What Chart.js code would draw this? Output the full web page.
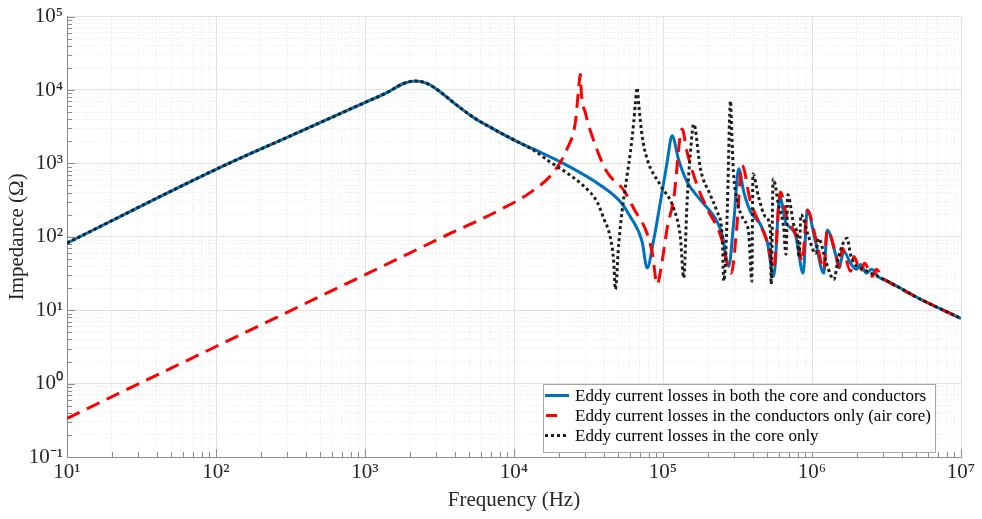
<!DOCTYPE html>
<html>
<head>
<meta charset="utf-8">
<script src="https://cdn.jsdelivr.net/npm/chart.js@4.4.1/dist/chart.umd.min.js"></script>
<style>
html, body { margin: 0; padding: 0; background: #ffffff; }
#wrap { width: 982px; height: 519px; position: relative; }
</style>
</head>
<body>
<div id="wrap"><canvas id="c" width="982" height="519"></canvas></div>
<script>
// ---- Series: eddy current losses in both the core and conductors ----
const freqBoth = [10, 100, 319, 1020, 1403, 1815, 2175, 2606, 3041, 3930, 5350, 7300, 10200, 13550, 22700, 38000, 51760, 60400, 72400, 78200, 86700, 96100, 106600, 115100, 127400, 145100, 178300, 230700, 249400, 276100, 298500, 322200, 348300, 386300, 451000, 500000, 553600, 608000, 664000, 774000, 873000, 929000, 1055000, 1200000, 1265000, 1438000, 1514000, 1636000, 1815000, 1990000, 2120000, 2320000, 2510000, 2800000, 3200000, 5360000, 10000000];
const zBoth = [82, 830, 2390, 6880, 9200, 12270, 13240, 12270, 10190, 6730, 4225, 2935, 2045, 1560, 940, 505, 300, 188, 86, 37.6, 92, 300, 1040, 2390, 1110, 559, 319, 161, 107, 39.7, 161, 845, 409, 220, 147, 86, 29, 351, 161, 107, 32, 232, 86, 32, 124, 57.7, 37.7, 63, 43.5, 36, 42, 32, 36, 28.2, 24.9, 14.1, 7.7];

// ---- Series: eddy current losses in the conductors only (air core) ----
const freqAir = [10, 100, 1020, 3730, 8090, 13550, 18450, 22700, 25800, 27000, 27900, 28300, 30100, 35200, 42100, 54500, 63600, 78200, 84900, 91300, 98600, 106600, 118000, 134300, 145100, 169400, 197700, 242700, 287800, 311000, 339600, 386300, 428500, 500000, 553600, 614000, 681000, 796000, 859000, 929000, 1084000, 1200000, 1265000, 1460000, 1530000, 1596000, 1815000, 1910000, 2120000, 2250000, 2540000, 2710000, 2970000, 3200000, 5360000, 10000000];
const zAir = [0.336, 3.2, 31, 111, 234, 432, 763, 1575, 3610, 9100, 16250, 9100, 4930, 1750, 763, 432, 243, 111, 59, 22.5, 46, 131, 332, 2935, 1420, 505, 243, 106, 32, 118, 940, 300, 178, 86, 37.7, 409, 178, 95.7, 46, 232, 78, 36, 124, 54, 38.5, 70, 34, 54, 34, 43.5, 29, 36, 27.4, 24.9, 14.1, 7.7];

// ---- Series: eddy current losses in the core only ----
const freqCore = [10, 100, 319, 1020, 1403, 1815, 2175, 2606, 3041, 3930, 5350, 7300, 10200, 13550, 17540, 22700, 29300, 36100, 40000, 44400, 46700, 47900, 50400, 53100, 57400, 60400, 63600, 65300, 67000, 68900, 72400, 78200, 96100, 118000, 131000, 137700, 145100, 152800, 160800, 178300, 208000, 230700, 249400, 256000, 269000, 276100, 279000, 283800, 290000, 297000, 316000, 347000, 375000, 395000, 401600, 437500, 487500, 526000, 532000, 549000, 596000, 644000, 669000, 688000, 751000, 799000, 818000, 844000, 948000, 1055000, 1106000, 1250000, 1400000, 1510000, 1720000, 1815000, 1910000, 2230000, 2600000, 3200000, 5360000, 10000000];
const zCore = [82, 830, 2390, 6880, 9200, 12270, 13240, 12270, 10190, 6730, 4225, 2935, 2045, 1510, 1040, 740, 493, 300, 178, 96, 46, 19.2, 78, 220, 689, 1420, 3610, 6700, 10740, 6000, 2390, 1150, 505, 243, 96, 27.6, 300, 1420, 3430, 845, 370, 220, 106, 24.9, 178, 1420, 3600, 7100, 2300, 763, 300, 171, 118, 24.9, 716, 351, 188, 118, 22.7, 614, 273, 138, 57.7, 373, 151, 101, 52.5, 200, 101, 59, 95, 43.5, 26.2, 54, 95.7, 57, 44, 35.8, 30.6, 24.9, 14.1, 7.7];

const seriesLabels = [
  'Eddy current losses in both the core and conductors',
  'Eddy current losses in the conductors only (air core)',
  'Eddy current losses in the core only'
];

// ---- Axis ticks ----
const xDecades = [1, 2, 3, 4, 5, 6, 7];
const xTickLabels = ['10¹', '10²', '10³', '10⁴', '10⁵', '10⁶', '10⁷'];
const yDecades = [-1, 0, 1, 2, 3, 4, 5];
const yTickLabels = ['10⁻¹', '10⁰', '10¹', '10²', '10³', '10⁴', '10⁵'];
const xTitle = 'Frequency (Hz)';
const yTitle = 'Impedance (Ω)';

const SERIF = '"Liberation Serif", "Times New Roman", serif';

function isDecade(v) {
  const e = Math.log10(v);
  return Math.abs(e - Math.round(e)) < 1e-6;
}
function logTicks(decades) {
  const out = [];
  for (let k = 0; k < decades.length - 1; k++) {
    for (let m = 1; m <= 9; m++) out.push({ value: m * Math.pow(10, decades[k]) });
  }
  out.push({ value: Math.pow(10, decades[decades.length - 1]) });
  out.forEach(t => { t.major = isDecade(t.value); });
  return out;
}
function toPoints(fs, zs) {
  return fs.map((f, i) => ({ x: f, y: zs[i] }));
}

const gridColor = (c) => (c.tick && isDecade(c.tick.value)) ? '#e2e2e2' : '#ececec';
const gridDash = (c) => (c.tick && !isDecade(c.tick.value)) ? [1.5, 2] : [];

const insideTicks = {
  id: 'insideTicks',
  beforeDatasetsDraw(chart) {
    const { ctx, chartArea, scales } = chart;
    ctx.save();
    ctx.strokeStyle = '#8c8c8c';
    ctx.lineWidth = 1;
    ctx.beginPath();
    scales.x.ticks.forEach(t => {
      const px = Math.round(scales.x.getPixelForValue(t.value)) + 0.5;
      const len = isDecade(t.value) ? 8 : 5;
      ctx.moveTo(px, chartArea.bottom);
      ctx.lineTo(px, chartArea.bottom - len);
    });
    scales.y.ticks.forEach(t => {
      const py = Math.round(scales.y.getPixelForValue(t.value)) + 0.5;
      const len = isDecade(t.value) ? 8 : 5;
      ctx.moveTo(chartArea.left, py);
      ctx.lineTo(chartArea.left + len, py);
    });
    ctx.stroke();
    ctx.restore();
  }
};

const boxLegend = {
  id: 'boxLegend',
  afterDraw(chart) {
    const { ctx, chartArea } = chart;
    const ds = chart.data.datasets;
    const w = 392, h = 68;
    const x0 = chartArea.right - 26 - w;
    const y0 = chartArea.bottom - 5 - h;
    ctx.save();
    ctx.fillStyle = '#ffffff';
    ctx.fillRect(x0, y0, w, h);
    ctx.strokeStyle = '#a6a6a6';
    ctx.lineWidth = 1;
    ctx.setLineDash([]);
    ctx.strokeRect(Math.round(x0) + 0.5, Math.round(y0) + 0.5, w, h);
    ctx.font = '17px ' + SERIF;
    ctx.textBaseline = 'middle';
    ds.forEach((d, i) => {
      const cy = y0 + 11.5 + i * 20;
      ctx.strokeStyle = d.borderColor;
      ctx.lineWidth = d.borderWidth;
      ctx.lineCap = 'butt';
      ctx.beginPath();
      if (i === 1) {
        ctx.setLineDash([]);
        ctx.moveTo(x0 + 3, cy); ctx.lineTo(x0 + 14, cy);
      } else {
        ctx.setLineDash(d.borderDash || []);
        ctx.moveTo(x0 + 2, cy); ctx.lineTo(x0 + 26, cy);
      }
      ctx.stroke();
      ctx.setLineDash([]);
      ctx.fillStyle = '#000000';
      ctx.fillText(d.label, x0 + 32, cy + 1);
    });
    ctx.restore();
  }
};

new Chart(document.getElementById('c'), {
  type: 'line',
  data: {
    datasets: [
      { label: seriesLabels[0], data: toPoints(freqBoth, zBoth), borderColor: '#0072BD', borderWidth: 3, pointRadius: 0, cubicInterpolationMode: 'monotone', fill: false, order: 3 },
      { label: seriesLabels[1], data: toPoints(freqAir, zAir), borderColor: '#FF0000', borderWidth: 3, borderDash: [14, 8], borderCapStyle: 'butt', pointRadius: 0, cubicInterpolationMode: 'monotone', fill: false, order: 2 },
      { label: seriesLabels[2], data: toPoints(freqCore, zCore), borderColor: '#1e1e1e', borderWidth: 3, borderDash: [3, 3], borderCapStyle: 'butt', pointRadius: 0, cubicInterpolationMode: 'monotone', fill: false, order: 1 }
    ]
  },
  options: {
    responsive: false,
    animation: false,
    devicePixelRatio: 1,
    layout: { padding: { top: 13, right: 21, left: 0, bottom: 0 } },
    plugins: { legend: { display: false }, tooltip: { enabled: false } },
    scales: {
      x: {
        type: 'logarithmic',
        min: 10, max: 1e7,
        afterBuildTicks: (s) => { s.ticks = logTicks(xDecades); },
        afterFit: (s) => { s.height = 62; },
        grid: { color: gridColor, lineWidth: 1, drawTicks: false },
        border: { display: true, color: '#8c8c8c', width: 1, dash: gridDash },
        ticks: {
          autoSkip: false, maxRotation: 0, minRotation: 0, padding: 3,
          color: '#262626',
          font: { family: SERIF, size: 21 },
          callback: (v) => isDecade(v) ? xTickLabels[xDecades.indexOf(Math.round(Math.log10(v)))] : ''
        },
        title: { display: true, text: xTitle, color: '#262626', font: { family: SERIF, size: 21 }, padding: { top: 0, bottom: 6 } }
      },
      y: {
        type: 'logarithmic',
        min: 0.1, max: 1e5,
        afterBuildTicks: (s) => { s.ticks = logTicks(yDecades); },
        afterFit: (s) => { s.width = 67; },
        grid: { color: gridColor, lineWidth: 1, drawTicks: false },
        border: { display: true, color: '#8c8c8c', width: 1, dash: gridDash },
        ticks: {
          autoSkip: false, padding: 4,
          color: '#262626',
          font: { family: SERIF, size: 21 },
          callback: (v) => isDecade(v) ? yTickLabels[yDecades.indexOf(Math.round(Math.log10(v)))] : ''
        },
        title: { display: true, text: yTitle, color: '#262626', font: { family: SERIF, size: 21 }, padding: { top: 5, bottom: 0 } }
      }
    }
  },
  plugins: [insideTicks, boxLegend]
});
</script>
</body>
</html>
